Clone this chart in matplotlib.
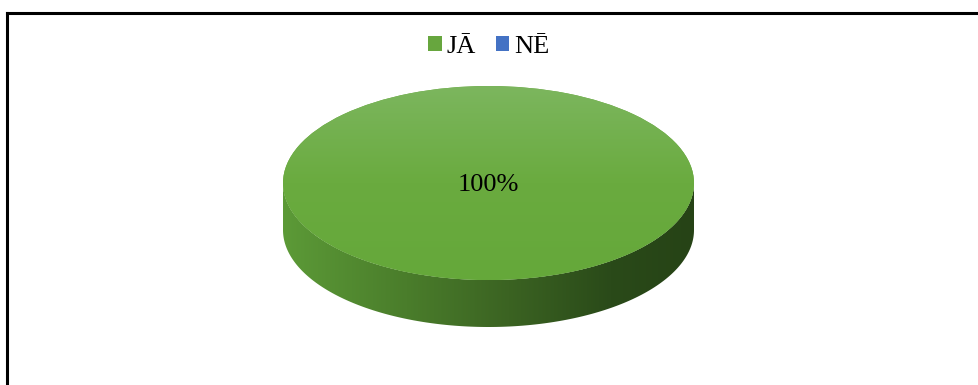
import numpy as np
import matplotlib
matplotlib.use("Agg")
import matplotlib.pyplot as plt
from matplotlib.path import Path
from matplotlib.patches import PathPatch
from matplotlib.colors import LinearSegmentedColormap
from matplotlib.lines import Line2D

# Survey answers (share of respondents)
categories = ["JĀ", "NĒ"]
shares = [100, 0]
colors = ["#67a63e", "#4472c4"]

W, H = 979, 385
fig = plt.figure(figsize=(W / 100, H / 100), dpi=100)
fig.patch.set_facecolor("white")
plt.rcParams["font.family"] = ["Liberation Serif", "DejaVu Serif"]

# Frame around the chart area (top and left edges visible)
def px(x, y):
    return x / W, 1 - y / H
x0, y0 = px(7, 13)
fig.add_artist(Line2D([x0, x0], [y0, -0.1], color="black", lw=2.2, transform=fig.transFigure))
fig.add_artist(Line2D([x0, 1.1], [y0, y0], color="black", lw=2.2, transform=fig.transFigure))

# Axes: x in [-1, 1] spans the pie width, y stretched to give the tilted look
left_px, right_px, top_px, bot_px = 283, 694, 86, 330
ry_px = 97.0
ax = fig.add_axes([left_px / W, 1 - bot_px / H, (right_px - left_px) / W, (bot_px - top_px) / H])
ax.set_xlim(-1, 1)
ylo = 1 - (bot_px - top_px) / ry_px
ax.set_ylim(ylo, 1)
ax.set_aspect("auto")
ax.axis("off")

depth = 47 / ry_px

# Side wall of the disc
t = np.linspace(np.pi, 2 * np.pi, 200)
upper = np.column_stack([np.cos(t), np.sin(t)])
lower = np.column_stack([np.cos(t[::-1]), np.sin(t[::-1]) - depth])
verts = np.vstack([upper, lower, upper[:1]])
codes = [Path.MOVETO] + [Path.LINETO] * (len(verts) - 2) + [Path.CLOSEPOLY]
side = PathPatch(Path(verts, codes), facecolor="none", edgecolor="none")
ax.add_patch(side)
side_cmap = LinearSegmentedColormap.from_list(
    "side", [(0, "#5c9a37"), (0.3, "#4a7d2b"), (0.55, "#3b6322"), (0.8, "#2a4a19"), (1, "#264316")])
grad = np.linspace(0, 1, 256)[None, :]
im = ax.imshow(grad, cmap=side_cmap, extent=[-1, 1, -depth - 1.05, 0.05],
               aspect="auto", zorder=1, interpolation="bilinear")
im.set_clip_path(side)

# Top face
wedges, texts, autotexts = ax.pie(
    shares, colors=colors, radius=1, center=(0, 0), startangle=90,
    autopct=lambda p: f"{p:.0f}%" if p > 0 else "", pctdistance=0.0,
    textprops=dict(fontsize=19, color="black"), frame=True,
    wedgeprops=dict(linewidth=0, zorder=2))
ax.set_xlim(-1, 1)
ax.set_ylim(ylo, 1)
ax.set_aspect("auto")
ax.axis("off")
for at in autotexts:
    at.set_zorder(5)
    at.set_position((0, -0.02))

top_cmap = LinearSegmentedColormap.from_list("top", ["#65a83a", "#6aab3f", "#7cb65e"])
vgrad = np.linspace(0, 1, 256)[:, None]
im2 = ax.imshow(vgrad, cmap=top_cmap, origin="lower", extent=[-1, 1, -1, 1],
                aspect="auto", zorder=3, interpolation="bilinear")
im2.set_clip_path(wedges[0])

# Legend
handles = [plt.Rectangle((0, 0), 1, 1, facecolor=c, edgecolor="none") for c in colors]
fig.legend(handles, categories, loc="center", bbox_to_anchor=(489 / W, 1 - 47 / H),
           ncol=2, frameon=False, fontsize=19, handlelength=0.5, handleheight=0.5,
           handletextpad=0.2, columnspacing=0.75, borderpad=0)

fig.savefig("out.png", dpi=100, facecolor="white")
